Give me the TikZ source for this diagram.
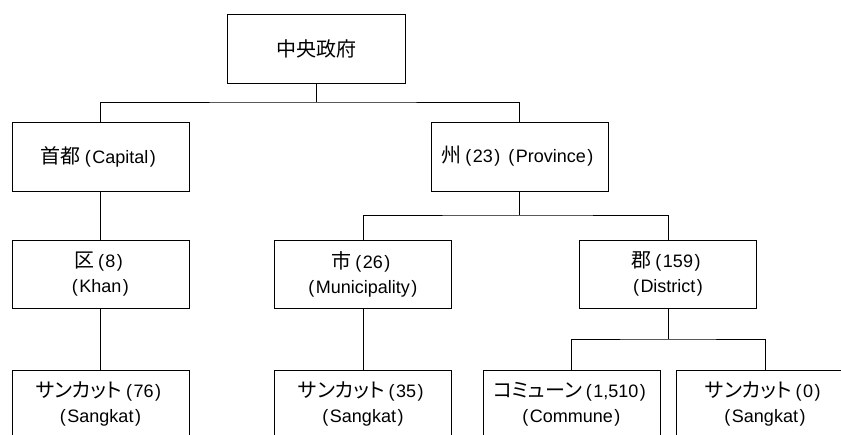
\documentclass[tikz,border=0pt]{standalone}
\usepackage{fontspec}
\setmainfont{Liberation Sans}
\newfontfamily\jp[RawFeature=+palt]{Noto Sans CJK JP}
% Japanese run, and spaced parentheses around Latin words and figures
\newcommand\ja[1]{{\jp\fontsize{20}{25}\selectfont #1}}
\newcommand\lp{\kern4pt(\kern1.5pt}
\newcommand\rp{\kern1.5pt)\kern4pt}
\begin{document}
\begin{tikzpicture}[x=1pt,y=-1pt,
  unit/.style={draw, line width=0.9pt, minimum width=177pt, minimum height=68pt,
    align=center, inner sep=0pt, font=\fontsize{18}{25}\selectfont},
  link/.style={line width=0.9pt}]
\useasboundingbox (0,0) rectangle (841,434);
\clip (0,0) rectangle (841,434);

% top level
\node[unit, minimum width=178pt, minimum height=69pt] (gov) at (316,48.5) {\ja{中央政府}};

% capital and provinces
\node[unit, minimum height=69pt] (capital) at (100.5,156.5) {\ja{首都}\lp Capital\rp};
\node[unit, minimum height=69pt] (province) at (519.5,156.5) {\ja{州}\lp 23\rp\lp Province\rp};

% second tier
\node[unit] (khan) at (100.5,274) {\ja{区}\lp 8\rp\\\lp Khan\rp};
\node[unit] (muni) at (363,274) {\ja{市}\lp 26\rp\\\lp Municipality\rp};
\node[unit] (dist) at (668,274) {\ja{郡}\lp 159\rp\\\lp District\rp};

% local tier
\node[unit] (sk76) at (100.5,404) {\ja{サンカット}\lp 76\rp\\\lp Sangkat\rp};
\node[unit] (sk35) at (363,404) {\ja{サンカット}\lp 35\rp\\\lp Sangkat\rp};
\node[unit] (commune) at (571.5,404) {\ja{コミューン}\lp 1,510\rp\\\lp Commune\rp};
\node[unit] (sk0) at (765,404) {\ja{サンカット}\lp 0\rp\\\lp Sangkat\rp};

% connectors
\coordinate (b1) at (316,102);
\draw[link] (gov) -- (b1);
\draw[link] (capital.north) |- (b1) -| (province.north);
\draw[link] (capital) -- (khan);
\draw[link] (khan) -- (sk76);

\coordinate (b2) at (519.5,215);
\draw[link] (province) -- (b2);
\draw[link] (muni.north) |- (b2) -| (dist.north);
\draw[link] (muni) -- (sk35);

\coordinate (b3) at (668,339);
\draw[link] (dist) -- (b3);
\draw[link] (commune.north) |- (b3) -| (sk0.north);
\end{tikzpicture}
\end{document}
